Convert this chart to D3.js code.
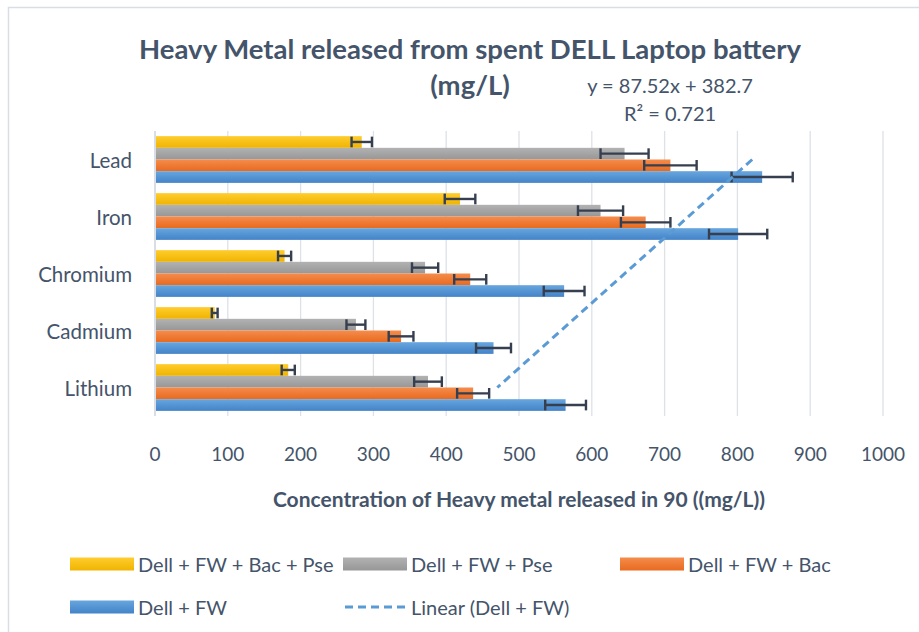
<!DOCTYPE html>
<html>
<head>
<meta charset="utf-8">
<script src="https://cdn.jsdelivr.net/npm/d3@7"></script>
<style>
  html, body { margin: 0; padding: 0; background: #fff; }
  svg { display: block; }
  text { font-family: Lato, "Open Sans", sans-serif; fill: #44546A; }
</style>
</head>
<body>
<svg id="chart" width="919" height="632"></svg>
<script>
// ---- data ----
const categories = ["Lead", "Iron", "Chromium", "Cadmium", "Lithium"];
const seriesNames = ["Dell + FW + Bac + Pse", "Dell + FW + Pse", "Dell + FW + Bac", "Dell + FW"];
const valuesBacPse = [284, 419, 178, 82, 183];
const valuesPse    = [645, 612, 371, 276, 375];
const valuesBac    = [708, 674, 433, 338, 437];
const valuesFW     = [834, 801, 562, 465, 564];
const errBacPse = [14, 21, 9, 4, 9];
const errPse    = [33, 31, 18, 13, 19];
const errBac    = [36, 34, 22, 17, 22];
const errFW     = [42, 40, 28, 24, 28];
const xTicks = [0, 100, 200, 300, 400, 500, 600, 700, 800, 900, 1000];
// trendline of Dell + FW, x = category index counted from Lithium (1) to Lead (5)
const trendSlope = 87.52;
const trendIntercept = 382.7;
const trendLabel = ["y = 87.52x + 382.7", "R² = 0.721"];
const titleLines = ["Heavy Metal released from spent DELL Laptop battery", "(mg/L)"];
const xAxisTitle = "Concentration of Heavy metal released in 90 ((mg/L))";

const seriesValues = [valuesBacPse, valuesPse, valuesBac, valuesFW];
const seriesErrors = [errBacPse, errPse, errBac, errFW];
const colorsTop = ["#FFCD2E", "#B2B2B2", "#F58C4C", "#68A6DE"];
const colorsBot = ["#F0B400", "#979797", "#E86A1F", "#4383C8"];

const svg = d3.select("#chart");

// chart border (only top/left visible)
svg.append("rect").attr("x", 8.5).attr("y", 7.5).attr("width", 1000).attr("height", 1000)
  .attr("fill", "none").attr("stroke", "#D9DEE6").attr("stroke-width", 1.5);

// gradients
const defs = svg.append("defs");
seriesNames.forEach((s, i) => {
  const g = defs.append("linearGradient").attr("id", "grad" + i)
    .attr("x1", 0).attr("y1", 0).attr("x2", 0).attr("y2", 1);
  g.append("stop").attr("offset", "0%").attr("stop-color", colorsTop[i]);
  g.append("stop").attr("offset", "100%").attr("stop-color", colorsBot[i]);
});

const plotLeft = 155, plotRight = 883, plotTop = 131, plotBottom = 416;
const x = d3.scaleLinear().domain([0, 1000]).range([plotLeft, plotRight]);
const y = d3.scaleBand().domain(categories).range([plotTop, plotBottom])
  .paddingInner(0.18).paddingOuter(0.09);
const ySub = d3.scaleBand().domain(d3.range(seriesNames.length)).range([0, y.bandwidth()]);

// gridlines
svg.append("g").selectAll("line").data(xTicks.slice(1)).join("line")
  .attr("x1", d => x(d)).attr("x2", d => x(d))
  .attr("y1", plotTop).attr("y2", plotBottom)
  .attr("stroke", "#DDE1E8").attr("stroke-width", 1.3);

// bars
const gBars = svg.append("g");
seriesNames.forEach((s, si) => {
  gBars.append("g").selectAll("rect").data(categories).join("rect")
    .attr("x", x(0))
    .attr("y", (c) => y(c) + ySub(si))
    .attr("width", (c, ci) => x(seriesValues[si][ci]) - x(0))
    .attr("height", ySub.bandwidth())
    .attr("fill", `url(#grad${si})`);
});

// vertical axis line
svg.append("line").attr("x1", x(0)).attr("x2", x(0)).attr("y1", plotTop).attr("y2", plotBottom)
  .attr("stroke", "#D9DEE6").attr("stroke-width", 2);

// error bars
const gErr = svg.append("g").attr("stroke", "#363F4F").attr("stroke-width", 2.4).attr("fill", "none");
seriesNames.forEach((s, si) => {
  categories.forEach((c, ci) => {
    const v = seriesValues[si][ci], e = seriesErrors[si][ci];
    const cy = y(c) + ySub(si) + ySub.bandwidth() / 2;
    const h = ySub.bandwidth() / 2 - 0.5;
    gErr.append("line").attr("x1", x(v - e)).attr("x2", x(v + e)).attr("y1", cy).attr("y2", cy);
    gErr.append("line").attr("x1", x(v - e)).attr("x2", x(v - e)).attr("y1", cy - h).attr("y2", cy + h);
    gErr.append("line").attr("x1", x(v + e)).attr("x2", x(v + e)).attr("y1", cy - h).attr("y2", cy + h);
  });
});

// trendline
const nCat = categories.length;
const trendPts = categories.map((c, ci) => {
  const idx = nCat - ci; // Lithium = 1 ... Lead = 5
  return [x(trendSlope * idx + trendIntercept), y(c) + y.bandwidth() / 2];
});
svg.append("path").attr("d", d3.line()([trendPts[0], trendPts[nCat - 1]]))
  .attr("fill", "none").attr("stroke", "#5B9BD5").attr("stroke-width", 3)
  .attr("stroke-dasharray", "8,5");

// category labels
svg.append("g").selectAll("text").data(categories).join("text")
  .attr("x", 132).attr("y", c => y(c) + y.bandwidth() / 2)
  .attr("text-anchor", "end").attr("dominant-baseline", "central")
  .style("font-size", "20.5px").text(d => d);

// x tick labels
svg.append("g").selectAll("text").data(xTicks).join("text")
  .attr("x", d => x(d)).attr("y", 453)
  .attr("text-anchor", "middle").attr("dominant-baseline", "central")
  .style("font-size", "19px").text(d => d);

// axis title
svg.append("text").attr("x", (plotLeft + plotRight) / 2).attr("y", 498)
  .attr("text-anchor", "middle").attr("dominant-baseline", "central")
  .style("font-size", "21px").style("font-weight", "bold").text(xAxisTitle);

// title
svg.append("text").attr("x", 470).attr("y", 48)
  .attr("text-anchor", "middle").attr("dominant-baseline", "central")
  .style("font-size", "27.5px").style("font-weight", "bold").text(titleLines[0]);
svg.append("text").attr("x", 470).attr("y", 84)
  .attr("text-anchor", "middle").attr("dominant-baseline", "central")
  .style("font-size", "27.5px").style("font-weight", "bold").text(titleLines[1]);

// trendline label
svg.append("text").attr("x", 670).attr("y", 85).attr("text-anchor", "middle")
  .attr("dominant-baseline", "central").style("font-size", "20px").text(trendLabel[0]);
svg.append("text").attr("x", 670).attr("y", 113).attr("text-anchor", "middle")
  .attr("dominant-baseline", "central").style("font-size", "20px").text(trendLabel[1]);

// legend
const legendItems = [
  { name: seriesNames[0], type: "bar", si: 0, x: 70, y: 564 },
  { name: seriesNames[1], type: "bar", si: 1, x: 343, y: 564 },
  { name: seriesNames[2], type: "bar", si: 2, x: 620, y: 564 },
  { name: seriesNames[3], type: "bar", si: 3, x: 70, y: 607 },
  { name: "Linear (Dell + FW)", type: "line", x: 343, y: 607 }
];
const lg = svg.append("g");
legendItems.forEach(it => {
  if (it.type === "bar") {
    lg.append("rect").attr("x", it.x).attr("y", it.y - 6.5).attr("width", 64).attr("height", 13)
      .attr("fill", `url(#grad${it.si})`);
  } else {
    lg.append("line").attr("x1", it.x + 2).attr("x2", it.x + 64).attr("y1", it.y).attr("y2", it.y)
      .attr("stroke", "#5B9BD5").attr("stroke-width", 3).attr("stroke-dasharray", "8,5");
  }
  lg.append("text").attr("x", it.x + 68).attr("y", it.y)
    .attr("dominant-baseline", "central").style("font-size", "20px").text(it.name);
});
</script>
</body>
</html>
